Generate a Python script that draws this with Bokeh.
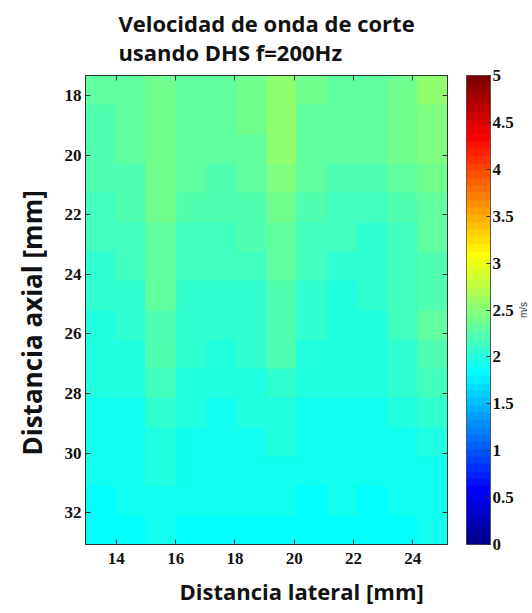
from math import ceil, pi

import numpy as np
from bokeh.core.properties import value
from bokeh.embed import file_html
from bokeh.layouts import row
from bokeh.models import (CustomJSTickFormatter, FixedTicker, LinearAxis,
                          LinearColorMapper, Range1d, Title)
from bokeh.plotting import figure
from bokeh.resources import INLINE

# Lateral cell centres [mm] (columns of the map)
lateral_mm = [13.5, 14.5, 15.5, 16.5, 17.5, 18.5, 19.5, 20.5, 21.5, 22.5, 23.5, 24.5]
# Axial cell centres [mm] (rows of the map, shallow to deep)
axial_mm = [17.8, 18.8, 19.8, 20.8, 21.8, 22.8, 23.8, 24.8,
            25.8, 26.8, 27.8, 28.8, 29.8, 30.8, 31.8, 32.7]

# Shear-wave speed [m/s], one list per axial row
speed_17_8 = [2.27, 2.30, 2.40, 2.32, 2.30, 2.35, 2.52, 2.35, 2.30, 2.30, 2.40, 2.52]
speed_18_8 = [2.25, 2.28, 2.40, 2.30, 2.28, 2.35, 2.54, 2.33, 2.28, 2.30, 2.38, 2.48]
speed_19_8 = [2.22, 2.27, 2.40, 2.28, 2.27, 2.33, 2.50, 2.30, 2.27, 2.28, 2.35, 2.45]
speed_20_8 = [2.20, 2.25, 2.38, 2.27, 2.25, 2.30, 2.46, 2.28, 2.25, 2.22, 2.30, 2.40]
speed_21_8 = [2.15, 2.22, 2.35, 2.22, 2.20, 2.25, 2.38, 2.22, 2.15, 2.13, 2.22, 2.32]
speed_22_8 = [2.12, 2.18, 2.32, 2.18, 2.15, 2.20, 2.33, 2.18, 2.12, 2.10, 2.18, 2.28]
speed_23_8 = [2.08, 2.12, 2.30, 2.15, 2.12, 2.15, 2.30, 2.13, 2.07, 2.05, 2.12, 2.25]
speed_24_8 = [2.05, 2.08, 2.28, 2.10, 2.08, 2.10, 2.25, 2.08, 2.03, 2.05, 2.12, 2.25]
speed_25_8 = [2.02, 2.05, 2.25, 2.08, 2.05, 2.08, 2.22, 2.05, 2.02, 2.03, 2.12, 2.28]
speed_26_8 = [1.99, 2.02, 2.20, 2.05, 2.02, 2.05, 2.20, 2.02, 2.00, 2.00, 2.10, 2.25]
speed_27_8 = [1.96, 1.98, 2.15, 2.00, 1.98, 2.00, 2.10, 1.98, 1.97, 1.97, 2.05, 2.15]
speed_28_8 = [1.93, 1.95, 2.08, 1.97, 1.95, 1.97, 2.03, 1.95, 1.95, 1.95, 2.00, 2.08]
speed_29_8 = [1.91, 1.92, 2.02, 1.93, 1.92, 1.93, 1.97, 1.93, 1.92, 1.92, 1.95, 2.00]
speed_30_8 = [1.89, 1.90, 1.97, 1.90, 1.90, 1.90, 1.93, 1.90, 1.90, 1.88, 1.92, 1.95]
speed_31_8 = [1.87, 1.88, 1.92, 1.88, 1.88, 1.88, 1.90, 1.87, 1.88, 1.82, 1.88, 1.92]
speed_32_7 = [1.86, 1.86, 1.88, 1.86, 1.86, 1.86, 1.86, 1.82, 1.86, 1.80, 1.86, 1.88]

speed_rows = [speed_17_8, speed_18_8, speed_19_8, speed_20_8, speed_21_8, speed_22_8,
              speed_23_8, speed_24_8, speed_25_8, speed_26_8, speed_27_8, speed_28_8,
              speed_29_8, speed_30_8, speed_31_8, speed_32_7]

x_ticks = [14, 16, 18, 20, 22, 24]
y_ticks = [18, 20, 22, 24, 26, 28, 30, 32]
cbar_ticks = [0, 0.5, 1, 1.5, 2, 2.5, 3, 3.5, 4, 4.5, 5]
cbar_labels = ["0", "0.5", "1", "1.5", "2", "2.5", "3", "3.5", "4", "4.5", "5"]
speed_low, speed_high = 0, 5

# Field of view [mm]
lateral_extent = (12.96, 25.17)
axial_extent = (17.33, 33.07)

TICK_FONT = "Liberation Serif"
LABEL_FONT = "Open Sans"
INK = "#111111"
FRAME = "#333333"


def jet(m=64):
    """MATLAB-style jet colormap with m entries, as hex strings."""
    n = ceil(m / 4)
    u = np.concatenate([np.arange(1, n + 1) / n, np.ones(n - 1), np.arange(n, 0, -1) / n])
    g = ceil(n / 2) - (1 if m % 4 == 1 else 0) + np.arange(1, len(u) + 1)
    r = g + n
    b = g - n
    cmap = np.zeros((m, 3))
    ok = r <= m
    cmap[r[ok] - 1, 0] = u[ok]
    ok = (g >= 1) & (g <= m)
    cmap[g[ok] - 1, 1] = u[ok]
    ok = b >= 1
    cmap[b[ok] - 1, 2] = u[ok]
    return ["#%02x%02x%02x" % tuple(int(round(c * 255)) for c in rgb) for rgb in cmap]


palette = jet(64)
mapper = LinearColorMapper(palette=palette, low=speed_low, high=speed_high)


def style_axis(ax, ticks, show_labels):
    ax.ticker = FixedTicker(ticks=ticks)
    ax.major_tick_in = 5
    ax.major_tick_out = 0
    ax.minor_tick_line_color = None
    ax.axis_line_color = FRAME
    ax.major_tick_line_color = FRAME
    ax.major_label_text_font = TICK_FONT
    ax.major_label_text_font_style = "bold"
    ax.major_label_text_font_size = "17px"
    ax.major_label_text_color = INK
    if not show_labels:
        ax.formatter = CustomJSTickFormatter(code="return ''")
        ax.major_label_standoff = 0


# ---------------------------------------------------------------- speed map
fig = figure(width=466, height=613,
             x_range=Range1d(*lateral_extent),
             y_range=Range1d(axial_extent[1], axial_extent[0]),
             output_backend="svg", toolbar_location=None,
             min_border_left=83, min_border_right=19,
             min_border_top=75, min_border_bottom=69)
fig.title.text = "Velocidad de onda de corte\nusando DHS f=200Hz"
fig.title.align = "center"
fig.title.vertical_align = "top"
fig.title.text_font = LABEL_FONT
fig.title.text_font_style = "bold"
fig.title.text_font_size = "22px"
fig.title.text_color = INK
fig.title.text_line_height = 0.97
fig.title.standoff = 13
fig.background_fill_color = "white"
fig.border_fill_color = "white"
fig.outline_line_color = FRAME
fig.grid.visible = False

fig.image(image=[np.array(speed_rows)], x=lateral_extent[0], y=axial_extent[0],
          dw=lateral_extent[1] - lateral_extent[0], dh=axial_extent[1] - axial_extent[0],
          color_mapper=mapper)

style_axis(fig.xaxis[0], x_ticks, True)
style_axis(fig.yaxis[0], y_ticks, True)
fig.xaxis.major_label_standoff = 8
fig.yaxis.major_label_standoff = 4

top_axis = LinearAxis()
style_axis(top_axis, x_ticks, False)
fig.add_layout(top_axis, "above")
right_axis = LinearAxis()
style_axis(right_axis, y_ticks, False)
fig.add_layout(right_axis, "right")

# axis titles
fig.add_layout(Title(text="Distancia lateral [mm]", align="left", offset=94,
                     text_font=LABEL_FONT, text_font_style="bold",
                     text_font_size="22px", text_color=INK, standoff=14), "below")
fig.add_layout(Title(text="Distancia axial [mm]", align="left", offset=89,
                     text_font=LABEL_FONT, text_font_style="bold",
                     text_font_size="26px", text_color=INK, standoff=23), "left")

# ---------------------------------------------------------------- colour bar
cbar_fig = figure(width=50, height=613,
                  x_range=Range1d(0, 1), y_range=Range1d(speed_low, speed_high),
                  output_backend="svg", toolbar_location=None,
                  x_axis_location=None, y_axis_location="right",
                  min_border_left=0, min_border_right=26,
                  min_border_top=75, min_border_bottom=69)
cbar_fig.outline_line_color = "#555555"
cbar_fig.grid.visible = False
cbar_fig.background_fill_color = "white"
cbar_fig.border_fill_color = "white"

n_bands = len(palette)
band_levels = [speed_low + (i + 0.5) * (speed_high - speed_low) / n_bands for i in range(n_bands)]
cbar_fig.image(image=[np.array(band_levels).reshape(n_bands, 1)], x=0, y=speed_low,
               dw=1, dh=speed_high - speed_low, color_mapper=mapper)

cax = cbar_fig.yaxis[0]
cax.ticker = FixedTicker(ticks=cbar_ticks)
cax.major_label_overrides = {t: s for t, s in zip(cbar_ticks, cbar_labels)}
cax.major_tick_in = 4
cax.major_tick_out = 0
cax.minor_tick_line_color = None
cax.axis_line_color = "#555555"
cax.major_tick_line_color = FRAME
cax.major_label_standoff = 2
cax.major_label_text_font = TICK_FONT
cax.major_label_text_font_style = "bold"
cax.major_label_text_font_size = "17px"
cax.major_label_text_color = INK

# ---------------------------------------------------------------- unit label
unit_fig = figure(width=16, height=613,
                  x_range=Range1d(0, 1), y_range=Range1d(speed_low, speed_high),
                  output_backend="svg", toolbar_location=None,
                  x_axis_location=None, y_axis_location=None,
                  min_border_left=0, min_border_right=0,
                  min_border_top=75, min_border_bottom=69)
unit_fig.outline_line_color = None
unit_fig.grid.visible = False
unit_fig.background_fill_color = "white"
unit_fig.border_fill_color = "white"
unit_fig.text(x=[0.45], y=[(speed_low + speed_high) / 2], text=["m/s"],
              angle=pi / 2, text_align="center", text_baseline="middle",
              text_font=value("Liberation Sans"), text_font_size="10px",
              text_color="#333333")

p = row(fig, cbar_fig, unit_fig)
open("out.html", "w").write(file_html(p, INLINE))
